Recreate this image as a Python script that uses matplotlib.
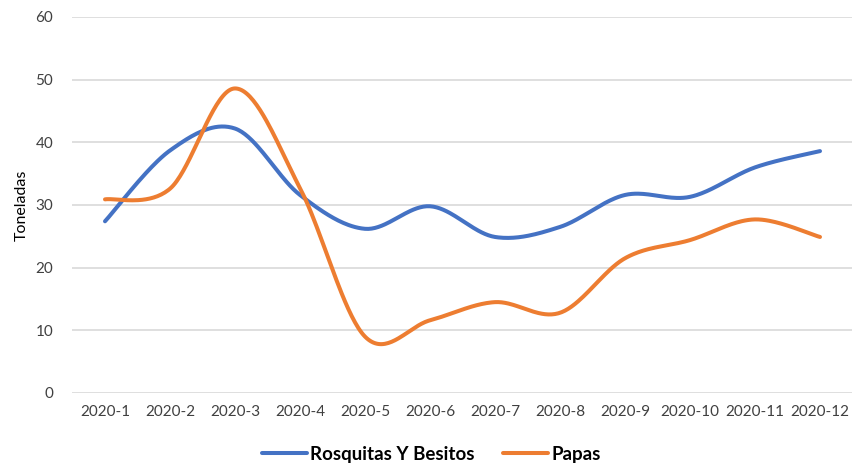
import numpy as np
import matplotlib
matplotlib.use("Agg")
import matplotlib.pyplot as plt

categories = ["2020-1", "2020-2", "2020-3", "2020-4", "2020-5", "2020-6",
              "2020-7", "2020-8", "2020-9", "2020-10", "2020-11", "2020-12"]
rosquitas = [27.4, 38.7, 42.2, 31.6, 26.2, 29.8, 24.9, 26.5, 31.6, 31.3, 36.0, 38.6]
papas = [30.9, 32.6, 48.6, 32.7, 9.0, 11.6, 14.5, 12.8, 21.5, 24.4, 27.7, 24.9]

plt.rcParams['font.family'] = ['Lato', 'DejaVu Sans']


def smooth(y, n=40):
    # Excel-style smoothed line: cubic Bezier segments with Catmull-Rom control points
    x = np.arange(len(y), dtype=float)
    y = np.asarray(y, dtype=float)
    pts = np.column_stack([x, y])
    out = []
    t = np.linspace(0, 1, n)
    for i in range(len(pts) - 1):
        p0 = pts[i]
        p3 = pts[i + 1]
        prev = pts[i - 1] if i > 0 else pts[i]
        nxt = pts[i + 2] if i + 2 < len(pts) else pts[i + 1]
        p1 = p0 + (p3 - prev) / 6.0
        p2 = p3 - (nxt - p0) / 6.0
        seg = ((1 - t)[:, None] ** 3 * p0 + 3 * ((1 - t) ** 2 * t)[:, None] * p1
               + 3 * ((1 - t) * t ** 2)[:, None] * p2 + (t ** 3)[:, None] * p3)
        out.append(seg if i == 0 else seg[1:])
    arr = np.vstack(out)
    return arr[:, 0], arr[:, 1]


fig = plt.figure(figsize=(8.54, 4.67), dpi=100)
ax = fig.add_axes([72.5 / 854, 1 - 393 / 467, (852.5 - 72.5) / 854, (393 - 17) / 467])

for data, color, label in [(rosquitas, "#4472C4", "Rosquitas Y Besitos"),
                           (papas, "#ED7D31", "Papas")]:
    xs, ys = smooth(data)
    ax.plot(xs, ys, color=color, lw=2.9, solid_capstyle='round', label=label)

ax.set_xlim(-0.5, len(categories) - 0.5)
ax.set_ylim(0, 60)
ax.set_yticks(range(0, 61, 10))
ax.set_xticks(range(len(categories)))
ax.set_xticklabels(categories)
ax.grid(axis='y', color='#D9D9D9', lw=1.2)
ax.set_axisbelow(True)
for s in ax.spines.values():
    s.set_visible(False)
ax.tick_params(axis='both', length=0, labelsize=11, colors='#404040')
ax.tick_params(axis='y', pad=14)
ax.tick_params(axis='x', pad=9)
ax.set_ylabel("Toneladas", fontsize=11.5, color='#000000', labelpad=5)

leg = ax.legend(loc='upper center', bbox_to_anchor=(0.46, -0.095), ncol=2, frameon=False,
                prop={'weight': 'bold', 'size': 13.5}, handlelength=2.4, columnspacing=1.5,
                handletextpad=0.2)

fig.savefig("out.png", dpi=100)
